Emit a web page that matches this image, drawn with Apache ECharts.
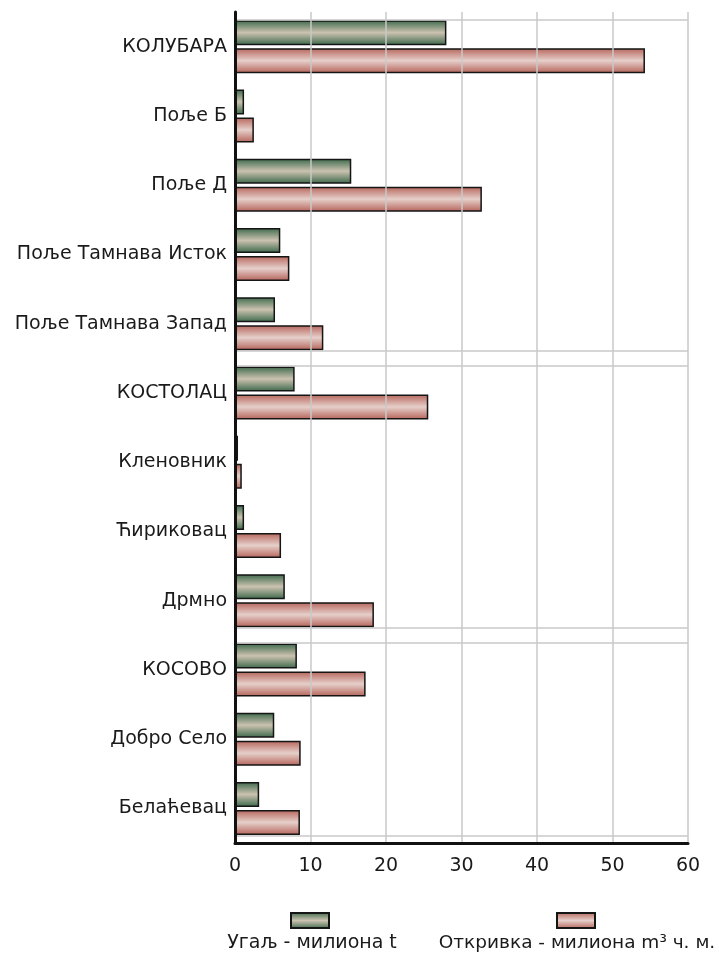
<!DOCTYPE html>
<html>
<head>
<meta charset="utf-8">
<script src="https://cdn.jsdelivr.net/npm/echarts@6/dist/echarts.min.js"></script>
<style>
html,body{margin:0;padding:0;background:#fff;}
#c{width:719px;height:956px;}
</style>
</head>
<body>
<div id="c"></div>
<script>
const categories = ['КОЛУБАРА','Поље Б','Поље Д','Поље Тамнава Исток','Поље Тамнава Запад','КОСТОЛАЦ','Кленовник','Ћириковац','Дрмно','КОСОВО','Добро Село','Белаћевац'];
const coal = [28.0, 1.2, 15.4, 6.0, 5.3, 7.9, 0.4, 1.2, 6.6, 8.2, 5.2, 3.2];
const overburden = [54.3, 2.5, 32.7, 7.2, 11.7, 25.6, 0.9, 6.1, 18.4, 17.3, 8.7, 8.6];
const groupSizes = [5, 4, 3];
const xTicks = [0, 10, 20, 30, 40, 50, 60];
const coalName = 'Угаљ - милиона t';
const overName = 'Откривка - милиона m³ ч. м.';

const FONT = 'DejaVu Sans';
const TXT = '#1a1a1a';

// group frame lines, slightly inset from group boundaries
const inset = 0.11;
const sepLines = [];
let acc = 0;
groupSizes.forEach(n => {
  sepLines.push({yAxis: acc + inset});
  acc += n;
  sepLines.push({yAxis: acc - inset});
});

function grad(edge, mid) {
  return new echarts.graphic.LinearGradient(0, 0, 0, 1, [
    {offset: 0, color: edge},
    {offset: 0.5, color: mid},
    {offset: 1, color: edge}
  ]);
}

const chart = echarts.init(document.getElementById('c'), null, {renderer: 'canvas'});
chart.setOption({
  animation: false,
  backgroundColor: '#fff',
  grid: {left: 235, right: 31, top: 12, bottom: 113, containLabel: false},
  xAxis: {
    type: 'value', min: 0, max: 60, interval: 10, position: 'bottom', z: 5,
    axisLine: {show: true, onZero: false, lineStyle: {color: '#111', width: 3}},
    axisTick: {show: false},
    axisLabel: {fontFamily: FONT, fontSize: 19, color: TXT, margin: 14,
      formatter: v => xTicks.includes(v) ? String(v) : ''},
    splitLine: {show: true, lineStyle: {color: '#c8c8c8', width: 1.5}}
  },
  yAxis: [{
    type: 'category', data: categories, inverse: true, z: 5,
    axisLine: {show: true, onZero: false, lineStyle: {color: '#111', width: 3}},
    axisTick: {show: false},
    axisLabel: {fontFamily: FONT, fontSize: 19, color: TXT, margin: 8},
    splitLine: {show: false}
  }, {
    type: 'value', min: 0, max: 12, inverse: true, show: false,
    splitLine: {show: false}
  }],
  legend: [{
    data: [coalName], left: 290, top: 912, icon: 'rect', padding: 0,
    itemWidth: 38, itemHeight: 15, formatter: () => '', selectedMode: false
  }, {
    data: [overName], left: 556, top: 912, icon: 'rect', padding: 0,
    itemWidth: 38, itemHeight: 15, formatter: () => '', selectedMode: false
  }],
  graphic: [{
    type: 'text', x: 312, y: 943,
    style: {text: coalName, fontFamily: FONT, fontSize: 19, fill: TXT, align: 'center', verticalAlign: 'middle'}
  }, {
    type: 'text', x: 577, y: 943,
    style: {text: overName, fontFamily: FONT, fontSize: 18.5, fill: TXT, align: 'center', verticalAlign: 'middle'}
  }],
  series: [{
    type: 'line', yAxisIndex: 1, data: [], z: 1, silent: true,
    markLine: {
      silent: true, symbol: 'none', label: {show: false},
      lineStyle: {color: '#c8c8c8', width: 1.5, type: 'solid'},
      data: sepLines
    }
  }, {
    name: coalName, type: 'bar', data: coal, z: 3,
    barWidth: 25, barGap: '12%',
    itemStyle: {color: grad('#3b684a', '#cbc2b0'), borderColor: '#151515', borderWidth: 1.5}
  }, {
    name: overName, type: 'bar', data: overburden, z: 3,
    barWidth: 25, barGap: '12%',
    itemStyle: {color: grad('#b5645a', '#e6cfca'), borderColor: '#151515', borderWidth: 1.5}
  }]
});
</script>
</body>
</html>
